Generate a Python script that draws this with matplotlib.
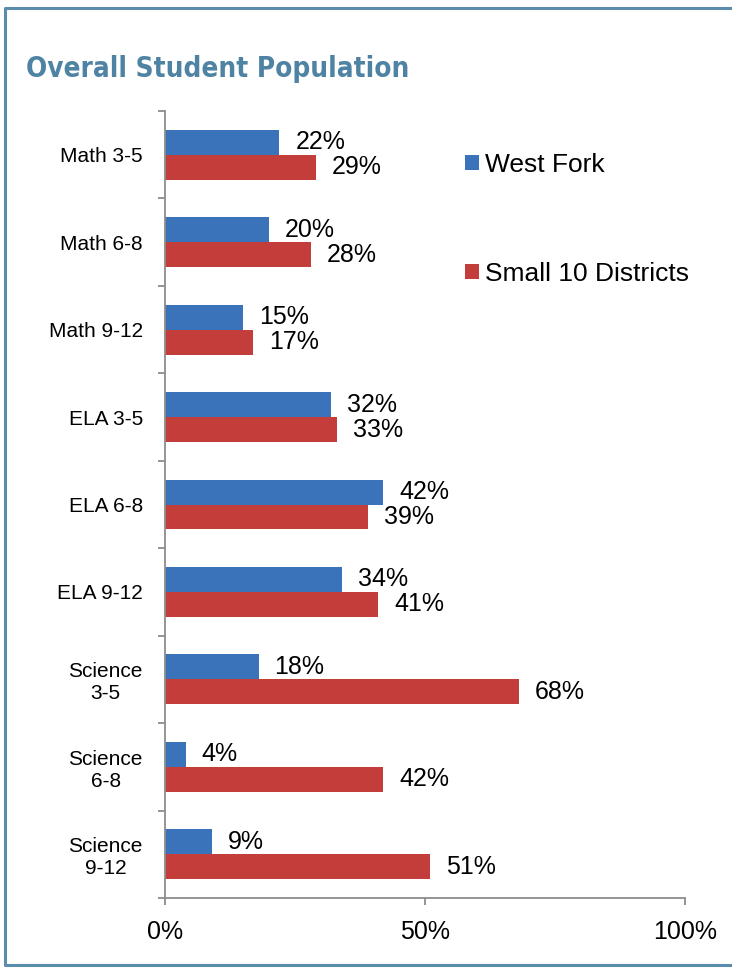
import numpy as np
import matplotlib.pyplot as plt
from matplotlib.patches import Patch
from matplotlib.lines import Line2D

categories = ['Math 3-5', 'Math 6-8', 'Math 9-12', 'ELA 3-5', 'ELA 6-8', 'ELA 9-12',
              'Science\n3-5', 'Science\n6-8', 'Science\n9-12']
west_fork = [22, 20, 15, 32, 42, 34, 18, 4, 9]
small_10 = [29, 28, 17, 33, 39, 41, 68, 42, 51]
series_names = ['West Fork', 'Small 10 Districts']
x_ticks = [0, 50, 100]
x_labels = ['0%', '50%', '100%']

blue = '#3A73BA'
red = '#C33D3B'
axis_gray = '#8C8C8C'

plt.rcParams['font.family'] = ['Liberation Sans', 'DejaVu Sans']

W, H = 732, 969
fig = plt.figure(figsize=(W / 100, H / 100), dpi=100)
ax = fig.add_axes([165 / W, 1 - 898 / H, 520 / W, (898 - 111) / H])

y = np.arange(len(categories))
h = 0.285
ax.barh(y - h / 2, west_fork, height=h, color=blue, label=series_names[0])
ax.barh(y + h / 2, small_10, height=h, color=red, label=series_names[1])

for i in range(len(categories)):
    ax.annotate('%d%%' % west_fork[i], (west_fork[i], y[i] - h / 2),
                xytext=(11.5, 0), textcoords='offset points',
                va='center', ha='left', fontsize=18)
    ax.annotate('%d%%' % small_10[i], (small_10[i], y[i] + h / 2),
                xytext=(11.5, 0), textcoords='offset points',
                va='center', ha='left', fontsize=18)

ax.set_xlim(0, 100)
ax.set_ylim(len(categories) - 0.5, -0.5)
ax.set_xticks(x_ticks)
ax.set_xticklabels(x_labels, fontsize=18)
ax.set_yticks(y)
ax.set_yticklabels(categories, fontsize=15)
plt.setp(ax.get_yticklabels(), multialignment='center')
ax.set_yticks(np.arange(len(categories) + 1) - 0.5, minor=True)

ax.tick_params(axis='y', which='major', length=0, pad=16)
ax.tick_params(axis='y', which='minor', length=5, width=1.3, color=axis_gray, direction='out')
ax.tick_params(axis='x', length=5, width=1.3, color=axis_gray, direction='out', pad=11)

for s in ['top', 'right']:
    ax.spines[s].set_visible(False)
for s in ['left', 'bottom']:
    ax.spines[s].set_color(axis_gray)
    ax.spines[s].set_linewidth(1.3)

handles = [Patch(facecolor=blue), Patch(facecolor=red)]
fig.legend(handles, series_names, loc='upper left',
           bbox_to_anchor=(465 / W, 1 - 153 / H), frameon=False, fontsize=19,
           handlelength=0.52, handleheight=0.52, handletextpad=0.22,
           labelspacing=3.22, borderpad=0, borderaxespad=0)

# condensed bold title; first family that exists wins
fig.text(26 / W, 1 - 77 / H, 'Overall Student Population', fontsize=20,
         fontweight='bold', fontstretch='extra-condensed', color='#4E83A3',
         ha='left', va='baseline',
         family=['Noto Sans ExtraCondensed Bold', 'Noto Sans Condensed Bold',
                 'Noto Sans ExtraCondensed', 'Noto Sans Condensed', 'DejaVu Sans'])

# outer frame, open on the right side
frame_col = '#5A8CAB'
fig.add_artist(Line2D([1.01, 4.5 / W, 4.5 / W, 1.01],
                      [1 - 7.5 / H, 1 - 7.5 / H, 1 - 964.5 / H, 1 - 964.5 / H],
                      transform=fig.transFigure, color=frame_col, lw=2.2))

fig.savefig('out.png', dpi=100)
